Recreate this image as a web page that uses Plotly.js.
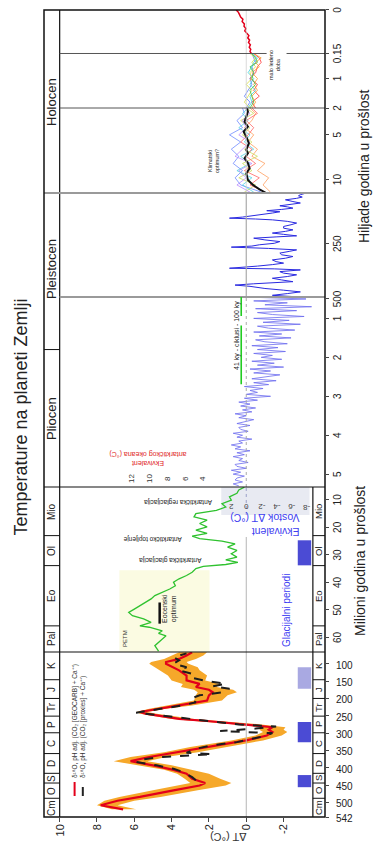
<!DOCTYPE html>
<html><head><meta charset="utf-8">
<script src="https://cdn.plot.ly/plotly-3.0.1.min.js"></script>
<style>
html,body{margin:0;padding:0;width:379px;height:847px;overflow:hidden;background:#fff;}
#chart{position:absolute;left:0;top:0;width:847px;height:379px;transform-origin:0 0;transform:translateY(847px) rotate(-90deg);}
</style></head><body><div id="chart"></div>
<script>
// ---------------- DATA ----------------
// Phanerozoic (millions of years ago)
const phanAge = [520,508,495,484,465,451,444,432,417,406,393,381,369,355,340,331,321,307,297,290,283,275,265,259,244,239,230,220,206,191,182,175,167,158,148,134,119,110,100,95,86,76,67];
const phanGeocarb = [6.6,7.8,6.9,5.7,3.9,2.5,2.2,2.9,3.2,3.9,5.0,6.2,5.2,3.6,2.1,1.1,0.0,-1.1,-1.4,-1.2,-1.4,0.0,2.1,3.6,5.4,5.7,4.8,3.6,2.1,2.0,1.8,2.0,2.7,2.5,3.2,3.2,3.6,3.9,4.3,4.3,3.6,3.2,2.9];
const bandHigh = [7.2,8.0,7.6,6.8,5.0,3.6,3.0,3.3,3.7,4.4,5.8,7.1,6.2,4.4,3.0,1.9,0.8,-0.5,-0.9,-0.7,-0.9,0.6,2.6,4.0,5.7,5.9,5.2,4.2,2.8,2.7,2.6,2.8,3.5,3.4,4.0,4.2,4.6,4.9,5.2,5.1,4.4,4.0,3.6];
const bandLow = [5.9,6.9,6.0,4.6,2.6,1.1,0.8,1.4,2.0,2.9,4.0,5.3,4.3,2.6,1.0,0.1,-0.9,-1.9,-2.2,-2.0,-2.1,-0.8,1.2,2.8,4.8,5.3,4.3,2.9,1.3,1.0,0.5,0.7,1.6,1.4,2.2,2.1,2.5,2.6,3.1,3.2,2.7,2.3,2.1];
const proxyAge = [436,427,412,403,393,383,377,369,361,357,345,335,326,316,307,300,294,287,281,275,265,259,249,241,230,220,211,201,191,182,172,165,158,148,139,129,119,110,100,90,81,70];
const phanProxies = [2.7,2.9,3.4,3.9,4.8,5.9,5.7,4.6,1.8,3.2,2.7,1.8,0.5,-0.4,-1.1,-1.4,1.4,-0.5,-1.6,0.4,2.1,3.2,4.8,5.9,4.6,3.4,2.7,3.0,2.5,1.25,0.9,1.8,1.1,2.3,3.0,2.9,3.6,3.2,3.9,3.6,3.9,3.2];
// Cenozoic (My)
const cenoAge = [65,63,61.2,59.4,58.5,57.6,56.3,55.8,54.5,53.3,52.1,50.9,49.7,48.5,47.3,46.0,44.8,43.6,42.4,41.2,39.9,38.7,37.5,36.3,35.0,34.2,33.5,32.7,31.8,30.8,29.6,28.4,27.2,26.0,25.0,24.1,23.2,22.2,21.0,19.8,18.6,17.4,16.2,15.0,13.8,12.6,11.4,10.1,8.9,7.6,6.4,5.4];
const cenoTemp = [4.7,4.9,4.6,4.3,4.7,4.5,5.2,5.7,5.1,5.5,6.1,6.3,6.0,5.7,5.4,5.1,4.9,4.5,4.1,3.8,3.9,3.6,3.2,2.9,2.7,2.3,1.1,0.45,1.1,0.5,0.8,0.5,1.0,0.6,1.3,2.5,2.9,2.1,2.7,2.1,2.5,2.1,2.8,2.7,1.6,1.1,1.3,0.8,0.9,0.5,0.4,0.1];
// Pliocene-Pleistocene (My)
const plioAge = [5.30,5.25,5.20,5.15,5.10,5.05,5.00,4.95,4.90,4.85,4.80,4.75,4.70,4.65,4.60,4.55,4.50,4.45,4.40,4.35,4.30,4.25,4.20,4.15,4.10,4.05,4.00,3.95,3.90,3.85,3.80,3.75,3.70,3.65,3.60,3.55,3.50,3.45,3.40,3.35,3.30,3.25,3.20,3.15,3.10,3.05,3.00,2.95,2.90,2.85,2.80,2.75,2.70,2.65,2.60,2.55,2.50,2.45,2.40,2.35,2.30,2.25,2.20,2.15,2.10,2.05,2.00,1.95,1.90,1.85,1.80,1.75,1.70,1.65,1.60,1.55,1.50,1.45,1.40,1.35,1.30,1.25,1.20,1.15,1.10,1.05,1.00,0.95,0.90,0.85,0.80,0.75,0.70,0.65,0.60,0.55,0.50,0.46];
const plioTemp = [0.4,0.7,0.2,0.6,0.5,0.1,0.7,0.3,0.8,0.0,0.5,0.6,-0.1,0.4,0.2,0.7,0.1,0.5,-0.2,0.6,0.3,0.8,0.2,0.4,-0.3,0.5,0.2,0.7,-0.1,0.3,0.4,-0.2,0.5,0.1,-0.4,0.4,0.0,0.6,-0.3,0.2,-0.5,0.3,-0.2,0.4,-0.6,0.1,
  -1.3,0.0,-0.6,-0.2,-0.9,0.1,-1.2,-0.4,-1.6,-0.3,-1.0,-1.8,-0.4,-1.3,-0.2,-2.0,-0.6,-1.5,-0.3,-1.9,-0.8,-1.4,-0.4,-2.1,-0.6,-1.7,-0.3,-2.2,-1.0,-0.5,-2.4,-0.7,-1.9,-0.4,-2.6,-1.2,-0.6,-2.9,-0.9,-2.3,-0.4,-3.1,-1.4,-0.6,-2.7,-0.5,-3.5,-1.0,-2.2,-0.4,-3.2,-0.6];
// Vostok (thousands of years ago)
const vostokAge = [498,492,484,476,468,460,450,444,438,432,428,420,412,404,396,388,381,373,368,365,360,355,348,341,334,326,318,310,302,294,286,279,272,266,261,255,248,240,232,224,218,213,206,200,192,185,177,169,161,153,145,138,134,130,125,119,112,106,100,95,89,83,77,72,65,59,52,44,37,31,25,20,15,12];
const vostokTemp = [-2.5,-1.4,-2.2,-2.9,-2.0,-1.0,-0.2,0.6,-0.4,-1.5,-2.5,-1.9,-1.4,-2.2,-2.7,-2.0,-1.8,-2.9,-1.5,0.9,-0.2,-0.6,-1.4,-2.0,-1.6,-1.4,-2.1,-2.5,-1.9,-1.8,-2.3,-2.7,-1.2,0.8,-0.3,-0.7,-1.5,-1.8,-1.0,-0.4,-1.6,-2.7,-2.0,-1.4,-2.1,-2.5,-2.0,-2.0,-2.4,-2.7,-2.2,-1.4,-0.5,0.9,0.2,-0.4,-1.0,-1.4,-1.8,-1.1,-1.9,-2.5,-2.2,-1.8,-2.4,-2.9,-2.5,-2.1,-2.7,-3.0,-2.8,-2.9,-3.1,-3.0];
// Holocene (ky)
const holoMeanAge = [11.5,11.5,11.09,10.6,10.05,9.3,8.74,8.18,7.62,7.06,6.69,5.94,5.21,4.65,4.09,3.53,2.97,2.41,2.03];
const holoMean = [-3.0,-1.07,-0.71,-0.36,-0.09,0.0,-0.18,-0.09,0.09,-0.09,0.0,-0.14,0.0,0.14,-0.09,0.09,0.0,-0.09,-0.04];
const holoProxyAge = [11.4,10.6,9.8,9.0,8.2,7.4,6.6,5.8,5.0,4.2,3.4,2.6,2.0];
const holoBlue = [-0.8,0.3,0.6,0.2,0.7,0.4,0.8,0.3,0.9,0.2,0.5,0.1,0.2];
const holoOrange = [-1.3,-0.9,-1.2,-0.6,-1.0,-0.3,-0.6,-0.1,-0.4,0.1,-0.3,-0.5,-0.2];
const holoCyan = [-0.4,0.2,-0.3,0.5,-0.2,0.3,-0.4,0.1,-0.2,0.4,-0.1,0.2,-0.1];
const holoYellow = [0.1,-0.5,0.4,-0.3,0.2,-0.6,0.1,-0.3,0.2,-0.2,0.3,-0.4,0.0];
const holoRed = [-1.0,-0.2,-0.7,0.1,-0.5,0.0,-0.3,0.3,-0.1,-0.4,0.0,-0.6,-0.3];
const holoPurple = [-0.2,0.5,0.0,0.4,-0.3,0.6,0.2,-0.2,0.4,0.0,0.2,-0.2,0.1];
// Last 2000 years (ky)
const lateAge = [2.0,1.8,1.6,1.4,1.2,1.0,0.8,0.6,0.45,0.3,0.15];
const lateBlue = [0.0,-0.2,0.1,-0.1,-0.3,-0.2,-0.4,-0.3,-0.5,-0.4,-0.3];
const lateRed = [-0.5,-0.3,-0.7,-0.4,-0.6,-0.2,-0.5,-0.6,-0.8,-0.7,-0.4];
const lateCyan = [-0.1,-0.3,-0.2,-0.5,-0.2,-0.4,-0.1,-0.3,-0.4,-0.6,-0.3];
const lateYellow = [-0.2,0.1,-0.1,-0.3,0.0,-0.3,-0.2,-0.5,-0.3,-0.5,-0.2];
const lateOrange = [-0.3,-0.5,-0.3,-0.6,-0.4,-0.6,-0.3,-0.7,-0.5,-0.8,-0.4];
const lateGreen = [-0.2,-0.4,-0.3,-0.2,-0.5,-0.3,-0.4,-0.2,-0.6,-0.5,-0.3];
// Instrumental (ky)
const instAge = [0.150,0.143,0.136,0.128,0.120,0.112,0.104,0.096,0.088,0.080,0.072,0.064,0.056,0.048,0.040,0.032,0.024,0.016,0.008,0.000];
const instTemp = [-0.27,-0.20,-0.24,-0.16,-0.22,-0.12,-0.18,-0.08,-0.14,-0.05,0.08,0.02,0.12,0.10,0.22,0.18,0.30,0.36,0.42,0.54];
// Glacial periods
const glacialFrom = [456,326,172,33.8];
const glacialTo = [421,268,110,24.7];
const glacialAxis = ['x','x','x','x2'];
// Geologic periods
const periodNames = ['Cm','O','S','D','C','P','Tr','J','K'];
const periodEdges = [542,488,444,416,359,299,251,200,146,66];
const cenoNames = ['Pal','Eo','Ol','Mio'];
const cenoEdges = [65.3,55.8,33.9,23,5.33];
// Tick labels
const yTicks = [10,8,6,4,2,0,-2];
const ticksA = [542,500,450,400,350,300,250,200,150,100];
const ticksB = [60,50,40,30,20,10];
const ticksC = [5,4,3,2,1,0.5];
const ticksCText = ['5','4','3','2','1','500'];
const ticksD = [250];
const ticksE = [10,5,2];
const ticksF = [1];
const ticksG = [0.15,0];
const vostokTicks = [2,0,-2,-4,-6,-8];
const oceanTicks = [12,10,8,6,4];
const eoceneOptimum = [55,47.3];
const cycles41 = [2.69,1.18];
const cycles100 = [0.94,0.45];

// ---------------- LAYOUT HELPERS ----------------
const FONT = 'Liberation Sans, Arial, sans-serif';
function xa(domain, range, vals, text){
  return {domain:domain, range:range, autorange:false, anchor:'y', tickmode:'array', tickvals:vals,
    ticktext:text || vals.map(String), ticks:'outside', ticklen:3, tickwidth:1, tickcolor:'#444',
    showgrid:false, zeroline:false, showline:false, tickfont:{size:10,color:'#222'}};
}
const D = {A:[0,0.20446],B:[0.20446,0.40892],C:[0.40892,0.64436],D:[0.64436,0.77323],E:[0.77323,0.87856],F:[0.87856,0.94610],G:[0.94610,1]};
const YTOP = 10.84, YBOT = -4.22, STRIPB = -3.57;

function ln(xref, x0, x1, y0, y1, color, width, dash){
  return {type:'line', xref:xref, yref:'y', x0:x0, x1:x1, y0:y0, y1:y1, line:{color:color, width:width, dash:dash||'solid'}};
}
const shapes = [];
shapes.push({type:'rect', xref:'x2', yref:'y', x0:65.3, x1:35.6, y0:1.97, y1:6.8, fillcolor:'#fbfbe2', line:{width:0}, layer:'below'});
shapes.push({type:'rect', xref:'x2', yref:'y', x0:15.5, x1:5.33, y0:-3.39, y1:1.34, fillcolor:'#e8eaf2', line:{width:0}, layer:'below'});
shapes.push(ln('x',542,66,0,0,'#b5b5b5',1));
shapes.push(ln('x2',65.3,23.5,0,0,'#b5b5b5',1));
shapes.push(ln('x2',15.5,5.33,0,0,'#9aa0c8',1,'dot'));
shapes.push(ln('x3',5.33,0.45,0,0,'#aaaaaa',1,'dot'));
shapes.push(ln('x4',500,12,0,0,'#aaaaaa',1.2));
shapes.push({type:'line', xref:'paper', yref:'y', x0:D.E[0], x1:1, y0:0, y1:0, line:{color:'#d0d0d0', width:0.8}});
shapes.push({type:'line', xref:'paper', yref:'y', x0:0, x1:1, y0:10, y1:10, line:{color:'#111', width:1.2}});
shapes.push({type:'line', xref:'paper', yref:'y', x0:0, x1:D.B[1], y0:STRIPB, y1:STRIPB, line:{color:'#111', width:1.2}});
for (let i=1;i<periodEdges.length-1;i++){
  shapes.push(ln('x',periodEdges[i],periodEdges[i],10,YTOP,'#111',1));
  shapes.push(ln('x',periodEdges[i],periodEdges[i],STRIPB,YBOT,'#111',1));
}
for (let i=1;i<cenoEdges.length-1;i++){
  shapes.push(ln('x2',cenoEdges[i],cenoEdges[i],10,YTOP,'#111',1));
  shapes.push(ln('x2',cenoEdges[i],cenoEdges[i],STRIPB,YBOT,'#111',1));
}
shapes.push(ln('x3',1.8,1.8,10,YTOP,'#111',1));
function sep(px, y0, y1, color, width){ return {type:'line', xref:'paper', yref:'y', x0:px, x1:px, y0:y0, y1:y1, line:{color:color, width:width}}; }
shapes.push(sep(D.B[0], YBOT, YTOP, '#111', 1.2));
shapes.push(sep(D.C[0], YBOT, YTOP, '#111', 1.2));
shapes.push(sep(D.D[0], YBOT, 10, '#9a9a9a', 2));
shapes.push(sep(D.E[0], YBOT, YTOP, '#9a9a9a', 2));
shapes.push(sep(D.F[0], YBOT, 10, '#555', 1));
shapes.push(sep(D.G[0], -1.09, 10, '#555', 1));
shapes.push(sep(D.G[0], YBOT, -2.16, '#555', 1));
const glacialColor = ['#4b4bd4','#4b4bd4','#a9a9e2','#4b4bd4'];
for (let i=0;i<glacialFrom.length;i++){
  shapes.push({type:'rect', xref:glacialAxis[i], yref:'y', x0:glacialFrom[i], x1:glacialTo[i], y0:-2.76, y1:-3.48, fillcolor:glacialColor[i], line:{width:0}});
}
shapes.push(ln('x2',eoceneOptimum[0],eoceneOptimum[1],4.64,4.64,'#111',2.5));
shapes.push(ln('x3',cycles41[0],cycles41[1],0.27,0.27,'#22cc22',1.6));
shapes.push(ln('x3',cycles100[0],cycles100[1],0.27,0.27,'#22cc22',1.6));
shapes.push({type:'line', xref:'paper', yref:'y', x0:0.026, x1:0.0434, y0:9.2, y1:9.2, line:{color:'#e3001b', width:2}});
shapes.push({type:'line', xref:'paper', yref:'y', x0:0.026, x1:0.0434, y0:8.76, y1:8.76, line:{color:'#222', width:2, dash:'dash'}});
shapes.push({type:'rect', xref:'paper', yref:'paper', x0:0, x1:1, y0:0, y1:1, line:{color:'#111', width:1.5}});

const ann = [];
function A(xref, x, y, text, size, color, angle, extra){
  const a = {xref:xref, yref:'y', x:x, y:y, text:text, showarrow:false, font:{size:size, color:color||'#222', family:FONT}, textangle:angle||0, xanchor:'center', yanchor:'middle'};
  return Object.assign(a, extra||{});
}
for (let i=0;i<periodNames.length;i++){
  const m = (periodEdges[i]+periodEdges[i+1])/2;
  ann.push(A('x', m, 10.42, periodNames[i], 10));
  ann.push(A('x', m, -3.895, periodNames[i], 9.5));
}
for (let i=0;i<cenoNames.length;i++){
  const m = (cenoEdges[i]+cenoEdges[i+1])/2;
  ann.push(A('x2', m, 10.42, cenoNames[i], 10));
  ann.push(A('x2', m, -3.895, cenoNames[i], 9.5));
}
ann.push(A('x3', 3.57, 10.42, 'Pliocen', 13));
ann.push(A('x4', 370, 10.42, 'Pleistocen', 13));
ann.push(A('paper', 0.8866, 10.42, 'Holocen', 13));
ann.push(A('paper', -0.0248, 1.0, 'ΔT (°C)', 11, '#333', -90));
ann.push({xref:'paper', yref:'paper', x:0.317, y:-0.125, text:'Milioni godina u prošlost', showarrow:false, font:{size:14,color:'#222',family:FONT}, xanchor:'center', yanchor:'middle'});
ann.push({xref:'paper', yref:'paper', x:0.8055, y:-0.14, text:'Hiljade godina u prošlost', showarrow:false, font:{size:14,color:'#222',family:FONT}, xanchor:'center', yanchor:'middle'});
ann.push(A('paper', 0.0458, 9.2, 'δ¹⁸O, pH adj. (CO₂ [GEOCARB] + Ca⁺⁺)', 6.5, '#333', 0, {xanchor:'left'}));
ann.push(A('paper', 0.0458, 8.74, 'δ¹⁸O, pH adj. (CO₂ [proxies] + Ca⁺⁺)', 6.5, '#333', 0, {xanchor:'left'}));
ann.push(A('x2', 11.0, 3.68, 'Antarktička reglacijacija', 6.5, '#222', -90));
ann.push(A('x2', 24.5, 5.02, 'Antarktičko topljenje', 6.5, '#222', -90));
ann.push(A('x2', 32.0, 4.1, 'Antarktička glacijacija', 6.5, '#222', -90));
ann.push(A('x2', 60.3, 6.5, 'PETM', 6, '#333'));
ann.push(A('x2', 49.5, 4.1, 'Eocenski<br>optimum', 7, '#222'));
ann.push(A('x2', 50.2, -2.18, 'Glacijalni periodi', 10, '#3d3df2'));
ann.push(A('x2', 19.2, -0.99, 'Ekvivalent<br>Vostok ΔT (°C)', 10.5, '#4040f0', -90, {align:'left'}));
for (const v of vostokTicks){ ann.push(A('x2', 12.5, v/2.5, String(v), 8, '#444', -90)); }
ann.push(A('x3', 4.59, 5.28, 'Ekvivalent<br>antarktičkog okeana (°C)', 7, '#e02525', -90));
for (const v of oceanTicks){ ann.push(A('x3', 5.10, 0.4 + 0.48*v, String(v), 8, '#333')); }
ann.push(A('x3', 1.45, 0.49, '41 ky - ciklusi - 100 ky', 7, '#222'));
ann.push(A('x5', 7.92, 1.75, 'Klimatski<br>optimum?', 5.5, '#222'));
ann.push(A('x6', 0.54, -1.52, 'malo ledeno<br>doba', 5.5, '#222'));

// ---------------- TRACES ----------------
function tr(x, y, axis, color, width, extra){
  return Object.assign({type:'scatter', mode:'lines', x:x, y:y, xaxis:axis, yaxis:'y', line:{color:color, width:width}, hoverinfo:'skip', cliponaxis:true}, extra||{});
}
const traces = [
  tr(phanAge, bandLow, 'x', 'rgba(0,0,0,0)', 0),
  tr(phanAge, bandHigh, 'x', 'rgba(0,0,0,0)', 0, {fill:'tonexty', fillcolor:'#f6a82a'}),
  tr(phanAge, phanGeocarb, 'x', '#e3001b', 2.2),
  tr(proxyAge, phanProxies, 'x', '#1e1e1e', 2, {line:{color:'#1e1e1e', width:2, dash:'dash'}}),
  tr(cenoAge, cenoTemp, 'x2', '#2fc22f', 1.3),
  tr(plioAge, plioTemp, 'x3', '#6b6bef', 0.8),
  tr(vostokAge, vostokTemp, 'x4', '#2a2ae0', 1),
  tr(holoProxyAge, holoBlue, 'x5', '#5b7bff', 0.7),
  tr(holoProxyAge, holoOrange, 'x5', '#ff9048', 0.7),
  tr(holoProxyAge, holoCyan, 'x5', '#3fcfe0', 0.7),
  tr(holoProxyAge, holoYellow, 'x5', '#c8d84a', 0.7),
  tr(holoProxyAge, holoRed, 'x5', '#ff5050', 0.7),
  tr(holoProxyAge, holoPurple, 'x5', '#b07cff', 0.7),
  tr(holoMeanAge, holoMean, 'x5', '#111111', 2),
  tr(lateAge, lateBlue, 'x6', '#5b7bff', 0.8),
  tr(lateAge, lateRed, 'x6', '#ff3030', 0.8),
  tr(lateAge, lateCyan, 'x6', '#3fcfe0', 0.8),
  tr(lateAge, lateYellow, 'x6', '#d8e040', 0.8),
  tr(lateAge, lateOrange, 'x6', '#ff9a30', 0.8),
  tr(lateAge, lateGreen, 'x6', '#40c040', 0.8),
  tr(instAge, instTemp, 'x7', '#e3001b', 1.5)
];

const layout = {
  width:847, height:379,
  margin:{l:30, r:10, t:44, b:54},
  paper_bgcolor:'#ffffff', plot_bgcolor:'#ffffff',
  showlegend:false,
  font:{family:FONT, color:'#222'},
  title:{text:'Temperature na planeti Zemlji', x:0.5077, xanchor:'center', y:0.9446, yanchor:'middle', font:{size:18, color:'#222', family:FONT}},
  xaxis: xa(D.A, [542,66], ticksA),
  xaxis2: xa(D.B, [65.3,5.33], ticksB),
  xaxis3: xa(D.C, [5.33,0.45], ticksC, ticksCText),
  xaxis4: xa(D.D, [500,12], ticksD),
  xaxis5: xa(D.E, [11.5,2], ticksE),
  xaxis6: xa(D.F, [2,0.15], ticksF),
  xaxis7: xa(D.G, [0.15,0], ticksG),
  yaxis:{range:[YBOT,YTOP], autorange:false, anchor:'x', tickmode:'array', tickvals:yTicks, ticktext:yTicks.map(String),
    ticks:'outside', ticklen:4, tickcolor:'#444', showgrid:false, zeroline:false, showline:false, tickfont:{size:11, color:'#222'}},
  shapes:shapes,
  annotations:ann
};
Plotly.newPlot('chart', traces, layout, {staticPlot:true, displayModeBar:false});
</script></body></html>
